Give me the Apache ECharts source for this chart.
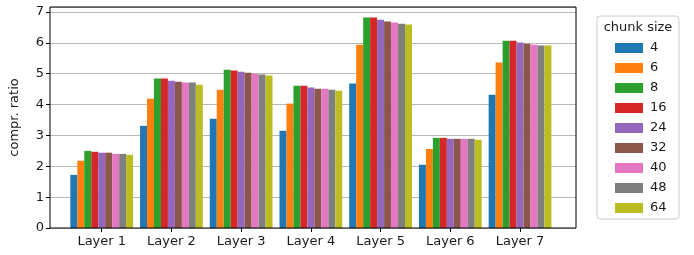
<!DOCTYPE html>
<html>
	<head>
		<meta charset="utf-8" />
		<title></title>
		<script type="text/javascript" src="https://cdn.jsdelivr.net/npm/echarts@6/dist/echarts.min.js"></script>
		<style>
			html, body { margin: 0; padding: 0; background: #fff; }
			#chart { width: 694px; height: 255px; }
		</style>
	</head>
	<body>
		<div id="chart"></div>
		<script type="text/javascript">
			// data
			var layers = ['Layer 1', 'Layer 2', 'Layer 3', 'Layer 4', 'Layer 5', 'Layer 6', 'Layer 7'];
			var chunkSizes = ['4', '6', '8', '16', '24', '32', '40', '48', '64'];
			var yTicks = [0, 1, 2, 3, 4, 5, 6, 7];
			var cs4  = [1.72, 3.31, 3.54, 3.15, 4.68, 2.05, 4.32];
			var cs6  = [2.18, 4.19, 4.48, 4.03, 5.94, 2.56, 5.36];
			var cs8  = [2.50, 4.84, 5.13, 4.61, 6.82, 2.92, 6.07];
			var cs16 = [2.47, 4.84, 5.10, 4.61, 6.82, 2.92, 6.07];
			var cs24 = [2.44, 4.77, 5.06, 4.55, 6.75, 2.89, 6.01];
			var cs32 = [2.44, 4.74, 5.03, 4.51, 6.69, 2.89, 5.97];
			var cs40 = [2.40, 4.71, 5.00, 4.51, 6.66, 2.89, 5.94];
			var cs48 = [2.40, 4.71, 4.97, 4.48, 6.62, 2.89, 5.91];
			var cs64 = [2.37, 4.64, 4.94, 4.45, 6.59, 2.86, 5.91];
			var allValues = [cs4, cs6, cs8, cs16, cs24, cs32, cs40, cs48, cs64];

			var colors = ['#1f77b4', '#ff7f0e', '#2ca02c', '#d62728', '#9467bd', '#8c564b', '#e377c2', '#7f7f7f', '#bcbd22'];
			var font = 'DejaVu Sans';
			var yMax = 7.16;

			var series = [];
			for (var i = 0; i < chunkSizes.length; i++) {
				series.push({
					name: chunkSizes[i],
					type: 'bar',
					xAxisIndex: 1,
					yAxisIndex: 1,
					barGap: '0%',
					barCategoryGap: '10%',
					itemStyle: { color: colors[i] },
					data: allValues[i]
				});
			}

			var myChart = echarts.init(document.getElementById('chart'));
			var option = {
				animation: false,
				textStyle: { fontFamily: font },
				grid: [
					{ left: 46, right: 118, top: 7, bottom: 27, show: true, borderColor: '#000', borderWidth: 1, backgroundColor: 'transparent', z: 5 },
					{ left: 66.85, right: 139.1, top: 7, bottom: 27 }
				],
				xAxis: [
					{ gridIndex: 0, type: 'value', min: 0, max: 1, show: false },
					{
						gridIndex: 1,
						type: 'category',
						data: layers,
						axisLine: { show: false },
						axisTick: { show: true, alignWithLabel: true, length: 4, lineStyle: { color: '#000' } },
						axisLabel: { fontFamily: font, fontSize: 13, color: '#1a1a1a', margin: 7 }
					}
				],
				yAxis: [
					{
						gridIndex: 0,
						type: 'value',
						min: yTicks[0],
						max: yMax,
						interval: 1,
						name: 'compr. ratio',
						nameLocation: 'middle',
						nameGap: 29,
						nameTextStyle: { fontFamily: font, fontSize: 13, color: '#1a1a1a' },
						axisLine: { show: false },
						axisTick: { show: true, length: 4, lineStyle: { color: '#000' } },
						axisLabel: { fontFamily: font, fontSize: 13, color: '#1a1a1a', margin: 6, showMaxLabel: false },
						splitLine: { show: true, lineStyle: { color: '#b8b8b8', width: 1 } }
					},
					{ gridIndex: 1, type: 'value', min: 0, max: yMax, show: false }
				],
				legend: {
					orient: 'vertical',
					left: 610,
					top: 36,
					itemWidth: 28,
					itemHeight: 10,
					itemGap: 6,
					icon: 'rect',
					z: 10,
					textStyle: { fontFamily: font, fontSize: 13, color: '#1a1a1a', lineHeight: 14, padding: [0, 0, 0, 2] },
					data: chunkSizes
				},
				graphic: [
					{
						type: 'rect',
						z: 1,
						shape: { x: 597, y: 16, width: 82, height: 203, r: 3 },
						style: { fill: '#fff', stroke: '#cccccc', lineWidth: 1 }
					},
					{
						type: 'text',
						z: 2,
						x: 638,
						y: 28,
						style: { text: 'chunk size', font: '13px "DejaVu Sans"', fill: '#1a1a1a', textAlign: 'center', textVerticalAlign: 'middle' }
					}
				],
				series: series
			};
			myChart.setOption(option);
		</script>
	</body>
</html>
